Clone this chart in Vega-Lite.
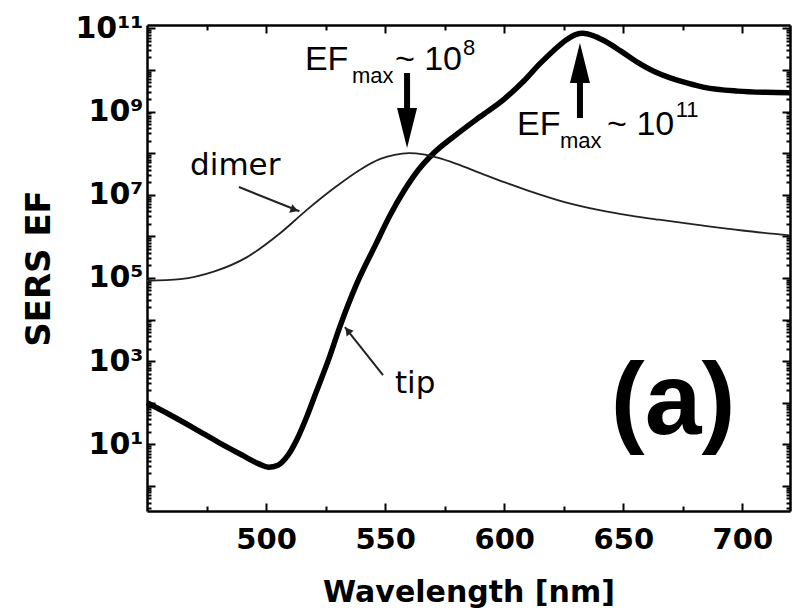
{
  "$schema": "https://vega.github.io/schema/vega-lite/v6.json",
  "width": 643,
  "height": 486,
  "autosize": {"type": "none"},
  "padding": {"left": 147, "top": 25, "right": 6, "bottom": 105},
  "background": "white",
  "config": {"view": {"stroke": null}, "font": "DejaVu Sans"},
  "datasets": {
    "tip": [
      {"nm": 450, "ef": 100}, {"nm": 460, "ef": 50.1}, {"nm": 470, "ef": 24.0}, {"nm": 480, "ef": 11.2},
      {"nm": 490, "ef": 5.5}, {"nm": 497, "ef": 3.39}, {"nm": 501, "ef": 2.82}, {"nm": 505, "ef": 3.16},
      {"nm": 509, "ef": 5.25}, {"nm": 513, "ef": 13.2}, {"nm": 517, "ef": 44.7}, {"nm": 521, "ef": 178},
      {"nm": 526, "ef": 1000}, {"nm": 531, "ef": 6761}, {"nm": 538, "ef": 70795}, {"nm": 546, "ef": 630957},
      {"nm": 552, "ef": 3162278}, {"nm": 558, "ef": 1.259e7}, {"nm": 564, "ef": 3.981e7}, {"nm": 570, "ef": 9.55e7},
      {"nm": 580, "ef": 2.818e8}, {"nm": 590, "ef": 7.586e8}, {"nm": 600, "ef": 1.995e9}, {"nm": 608, "ef": 5.248e9},
      {"nm": 615, "ef": 1.413e10}, {"nm": 621, "ef": 3.02e10}, {"nm": 626, "ef": 5.248e10}, {"nm": 630, "ef": 7.079e10},
      {"nm": 633, "ef": 7.586e10}, {"nm": 637, "ef": 6.761e10}, {"nm": 642, "ef": 5.012e10}, {"nm": 649, "ef": 2.818e10},
      {"nm": 656, "ef": 1.514e10}, {"nm": 663, "ef": 9.12e9}, {"nm": 670, "ef": 6.31e9}, {"nm": 677, "ef": 4.786e9},
      {"nm": 684, "ef": 3.802e9}, {"nm": 698, "ef": 3.09e9}, {"nm": 710, "ef": 2.884e9}, {"nm": 720, "ef": 2.818e9}
    ],
    "dimer": [
      {"nm": 450, "ef": 8.51e4}, {"nm": 464, "ef": 9.33e4}, {"nm": 478, "ef": 1.41e5}, {"nm": 492, "ef": 3.16e5},
      {"nm": 506, "ef": 1.2e6}, {"nm": 517, "ef": 4.27e6}, {"nm": 529, "ef": 1.51e7}, {"nm": 540, "ef": 4.17e7},
      {"nm": 548, "ef": 7.24e7}, {"nm": 554, "ef": 9.12e7}, {"nm": 560, "ef": 1.0e8}, {"nm": 566, "ef": 9.33e7},
      {"nm": 572, "ef": 7.76e7}, {"nm": 580, "ef": 5.5e7}, {"nm": 590, "ef": 3.31e7}, {"nm": 600, "ef": 2.0e7},
      {"nm": 610, "ef": 1.26e7}, {"nm": 625, "ef": 6.76e6}, {"nm": 640, "ef": 4.27e6}, {"nm": 653, "ef": 3.16e6},
      {"nm": 665, "ef": 2.51e6}, {"nm": 682, "ef": 1.86e6}, {"nm": 700, "ef": 1.38e6}, {"nm": 720, "ef": 1.05e6}
    ],
    "shafts": [
      {"nm": 559.2, "from": 8.41e9, "to": 1.1e9},
      {"nm": 631.8, "from": 6.97e8, "to": 5.71e9}
    ],
    "heads": [
      {"nm": 559.2, "ef": 4.01e8, "dir": "down"},
      {"nm": 631.8, "ef": 1.466e10, "dir": "up"}
    ],
    "pointers": [
      {"nm": 488.6, "ef": 1.53e7, "nm2": 514.0, "ef2": 4.0e6},
      {"nm": 549.1, "ef": 463, "nm2": 533.1, "ef2": 6590}
    ],
    "pointerDimer": [{"nm": 511.9, "ef": 4.34e6}],
    "pointerTip": [{"nm": 534.3, "ef": 5430}],
    "bigText": [
      {"label": "EF", "nm": 516.3, "ef": 9.9e9},
      {"label": "~ 10", "nm": 554.1, "ef": 9.9e9},
      {"label": "EF", "nm": 605.4, "ef": 2.72e8},
      {"label": "~ 10", "nm": 643.2, "ef": 2.72e8}
    ],
    "smallText": [
      {"label": "max", "nm": 536.1, "ef": 4.84e9},
      {"label": "8", "nm": 582.7, "ef": 2.28e10},
      {"label": "max", "nm": 623.4, "ef": 1.32e8},
      {"label": "11", "nm": 672.0, "ef": 7.36e8}
    ],
    "curveText": [
      {"label": "dimer", "nm": 468.1, "ef": 2.97e7},
      {"label": "tip", "nm": 554.1, "ef": 171}
    ],
    "panel": [{"label": "(a)", "nm": 670.9, "ef": 17.7}]
  },
  "resolve": {"axis": {"x": "independent", "y": "independent"}},
  "layer": [
    {
      "data": {"name": "tip"},
      "mark": {"type": "line", "color": "black", "strokeWidth": 5.5, "interpolate": "monotone"},
      "encoding": {
        "x": {
          "field": "nm", "type": "quantitative",
          "scale": {"domain": [450, 720], "nice": false, "zero": false},
          "axis": {
            "orient": "bottom",
            "values": [475, 500, 525, 550, 575, 600, 625, 650, 675, 700],
            "labelExpr": "datum.value % 50 == 0 ? datum.label : ''",
            "tickSize": {"condition": {"test": "datum.value % 50 == 0", "value": -8}, "value": -5},
            "tickWidth": 2, "tickColor": "black",
            "domainColor": "black", "domainWidth": 2.5,
            "labelFont": "DejaVu Sans", "labelFontWeight": "bold", "labelFontSize": 29, "labelColor": "black",
            "labelPadding": 22, "labelOverlap": false, "labelFlush": false,
            "title": "Wavelength [nm]", "titleFont": "DejaVu Sans", "titleFontSize": 30, "titleFontWeight": "bold",
            "titleColor": "black", "titlePadding": 20, "grid": false
          }
        },
        "y": {
          "field": "ef", "type": "quantitative",
          "scale": {"type": "log", "domain": [0.25, 1.2e11], "nice": false},
          "axis": {
            "orient": "left",
            "values": [0.3,0.4,0.5,0.6,0.7,0.8,0.9,1,2,3,4,5,6,7,8,9,10,20,30,40,50,60,70,80,90,100,200,300,400,500,600,700,800,900,1000,2000,3000,4000,5000,6000,7000,8000,9000,1e4,2e4,3e4,4e4,5e4,6e4,7e4,8e4,9e4,1e5,2e5,3e5,4e5,5e5,6e5,7e5,8e5,9e5,1e6,2e6,3e6,4e6,5e6,6e6,7e6,8e6,9e6,1e7,2e7,3e7,4e7,5e7,6e7,7e7,8e7,9e7,1e8,2e8,3e8,4e8,5e8,6e8,7e8,8e8,9e8,1e9,2e9,3e9,4e9,5e9,6e9,7e9,8e9,9e9,1e10,2e10,3e10,4e10,5e10,6e10,7e10,8e10,9e10,1e11],
            "labelExpr": "datum.value == 10 ? '10¹' : datum.value == 1000 ? '10³' : datum.value == 100000 ? '10⁵' : datum.value == 10000000 ? '10⁷' : datum.value == 1000000000 ? '10⁹' : datum.value == 100000000000 ? '10¹¹' : ''",
            "tickSize": {"condition": {"test": "abs(log(datum.value)/LN10 - round(log(datum.value)/LN10)) < 0.001", "value": -8}, "value": -4},
            "tickWidth": 2, "tickColor": "black",
            "domainColor": "black", "domainWidth": 2.5,
            "labelFont": "DejaVu Sans", "labelFontWeight": "bold", "labelFontSize": 30, "labelColor": "black",
            "labelPadding": 12, "labelOverlap": false, "labelFlush": false,
            "title": "SERS EF", "titleFont": "DejaVu Sans", "titleFontSize": 34, "titleFontWeight": "bold",
            "titleColor": "black", "titlePadding": 18, "grid": false
          }
        }
      }
    },
    {
      "data": {"name": "dimer"},
      "mark": {"type": "line", "color": "#222222", "strokeWidth": 1.8, "interpolate": "monotone"},
      "encoding": {
        "x": {
          "field": "nm", "type": "quantitative",
          "axis": {
            "orient": "top",
            "values": [475, 500, 525, 550, 575, 600, 625, 650, 675, 700],
            "labels": false,
            "tickSize": {"condition": {"test": "datum.value % 50 == 0", "value": -8}, "value": -5},
            "tickWidth": 2, "tickColor": "black",
            "domainColor": "black", "domainWidth": 2.5,
            "title": null, "grid": false
          }
        },
        "y": {
          "field": "ef", "type": "quantitative",
          "axis": {
            "orient": "right",
            "values": [0.3,0.4,0.5,0.6,0.7,0.8,0.9,1,2,3,4,5,6,7,8,9,10,20,30,40,50,60,70,80,90,100,200,300,400,500,600,700,800,900,1000,2000,3000,4000,5000,6000,7000,8000,9000,1e4,2e4,3e4,4e4,5e4,6e4,7e4,8e4,9e4,1e5,2e5,3e5,4e5,5e5,6e5,7e5,8e5,9e5,1e6,2e6,3e6,4e6,5e6,6e6,7e6,8e6,9e6,1e7,2e7,3e7,4e7,5e7,6e7,7e7,8e7,9e7,1e8,2e8,3e8,4e8,5e8,6e8,7e8,8e8,9e8,1e9,2e9,3e9,4e9,5e9,6e9,7e9,8e9,9e9,1e10,2e10,3e10,4e10,5e10,6e10,7e10,8e10,9e10,1e11],
            "labels": false,
            "tickSize": {"condition": {"test": "abs(log(datum.value)/LN10 - round(log(datum.value)/LN10)) < 0.001", "value": -8}, "value": -4},
            "tickWidth": 2, "tickColor": "black",
            "domainColor": "black", "domainWidth": 2.5,
            "title": null, "grid": false
          }
        }
      }
    },
    {
      "data": {"name": "shafts"},
      "mark": {"type": "rule", "color": "black", "strokeWidth": 6},
      "encoding": {
        "x": {"field": "nm", "type": "quantitative", "axis": null},
        "y": {"field": "from", "type": "quantitative", "axis": null},
        "y2": {"field": "to"}
      }
    },
    {
      "data": {"name": "heads"},
      "mark": {"type": "point", "filled": true, "color": "black", "opacity": 1, "size": 1600, "strokeWidth": 0},
      "encoding": {
        "x": {"field": "nm", "type": "quantitative", "axis": null},
        "y": {"field": "ef", "type": "quantitative", "axis": null},
        "shape": {"field": "dir", "type": "nominal", "legend": null,
          "scale": {"domain": ["down", "up"], "range": ["M-0.5,-1L0.5,-1L0,1Z", "M-0.5,1L0.5,1L0,-1Z"]}}
      }
    },
    {
      "data": {"name": "pointers"},
      "mark": {"type": "rule", "color": "#222222", "strokeWidth": 2},
      "encoding": {
        "x": {"field": "nm", "type": "quantitative", "axis": null},
        "y": {"field": "ef", "type": "quantitative", "axis": null},
        "x2": {"field": "nm2"},
        "y2": {"field": "ef2"}
      }
    },
    {
      "data": {"name": "pointerDimer"},
      "mark": {"type": "point", "shape": "triangle-right", "filled": true, "color": "#222222", "opacity": 1, "size": 80, "angle": 20},
      "encoding": {
        "x": {"field": "nm", "type": "quantitative", "axis": null},
        "y": {"field": "ef", "type": "quantitative", "axis": null}
      }
    },
    {
      "data": {"name": "pointerTip"},
      "mark": {"type": "point", "shape": "triangle-right", "filled": true, "color": "#222222", "opacity": 1, "size": 80, "angle": 231.6},
      "encoding": {
        "x": {"field": "nm", "type": "quantitative", "axis": null},
        "y": {"field": "ef", "type": "quantitative", "axis": null}
      }
    },
    {
      "data": {"name": "bigText"},
      "mark": {"type": "text", "align": "left", "baseline": "alphabetic", "font": "Liberation Sans", "fontSize": 34, "color": "black"},
      "encoding": {
        "x": {"field": "nm", "type": "quantitative", "axis": null},
        "y": {"field": "ef", "type": "quantitative", "axis": null},
        "text": {"field": "label"}
      }
    },
    {
      "data": {"name": "smallText"},
      "mark": {"type": "text", "align": "left", "baseline": "alphabetic", "font": "Liberation Sans", "fontSize": 22, "color": "black"},
      "encoding": {
        "x": {"field": "nm", "type": "quantitative", "axis": null},
        "y": {"field": "ef", "type": "quantitative", "axis": null},
        "text": {"field": "label"}
      }
    },
    {
      "data": {"name": "curveText"},
      "mark": {"type": "text", "align": "left", "baseline": "alphabetic", "font": "DejaVu Sans", "fontSize": 31, "color": "black"},
      "encoding": {
        "x": {"field": "nm", "type": "quantitative", "axis": null},
        "y": {"field": "ef", "type": "quantitative", "axis": null},
        "text": {"field": "label"}
      }
    },
    {
      "data": {"name": "panel"},
      "mark": {"type": "text", "align": "center", "baseline": "alphabetic", "font": "Liberation Sans", "fontWeight": "bold", "fontSize": 102, "color": "black"},
      "encoding": {
        "x": {"field": "nm", "type": "quantitative", "axis": null},
        "y": {"field": "ef", "type": "quantitative", "axis": null},
        "text": {"field": "label"}
      }
    }
  ]
}
